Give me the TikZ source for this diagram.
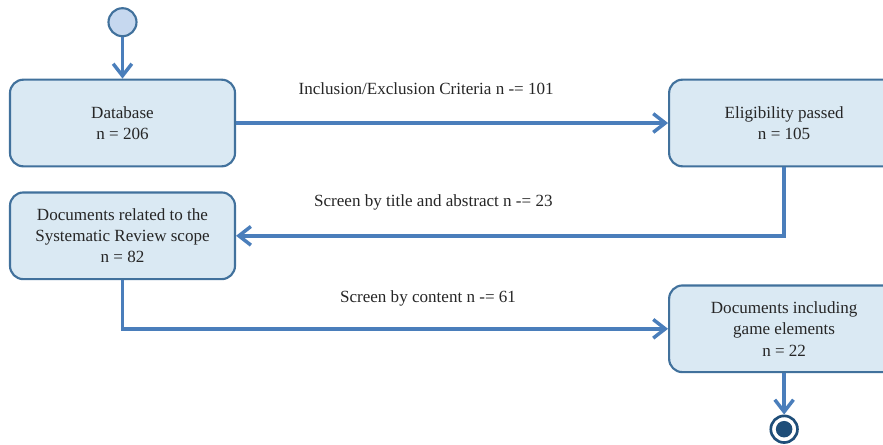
\documentclass[tikz,border=0pt]{standalone}
\usepackage{fontspec}
\setmainfont{Liberation Serif}
\usepackage{tikz}
\usetikzlibrary{positioning}
\usetikzlibrary{arrows.meta}
\definecolor{boxfill}{HTML}{DAE9F3}
\definecolor{boxline}{HTML}{41719C}
\definecolor{flowline}{HTML}{4A7EBB}
\definecolor{startfill}{HTML}{C6D8EF}
\definecolor{endfill}{HTML}{1F4E79}
\definecolor{txt}{HTML}{262626}
\tikzstyle{stage} = [rectangle,rounded corners=10pt,draw=boxline,line width=1.6pt,fill=boxfill,align=center,text=txt,minimum height=65pt]
\tikzstyle{initstate} = [circle,draw=boxline,line width=1.6pt,fill=startfill,minimum size=21pt,inner sep=0pt]
\tikzstyle{finalstate} = [circle,draw=endfill,line width=2pt,fill=white,minimum size=20pt,inner sep=0pt,path picture={\fill[endfill] (path picture bounding box.center) circle (6.2pt);}]

\begin{document}
\begin{tikzpicture}[font=\fontsize{12.8}{16}\selectfont,node distance=1cm]
	
	\tikzstyle{flow}=[-{Straight Barb[length=9pt,width=14pt]},draw=flowline,line width=2.6pt];
	\tikzstyle{flowlabel}=[text=txt];
	
	\useasboundingbox (-91.875pt,92.25pt) rectangle (570.375pt,-240.75pt);
	\clip (-91.875pt,92.25pt) rectangle (570.375pt,-240.75pt);
	
	\node (1) [stage,minimum width=168.75pt] {Database\\n = 206};
	\node (2) [stage,minimum width=172.5pt,right=324pt of 1] {Eligibility passed\\n = 105};
	\node (3) [stage,minimum width=168.75pt,below=18pt of 1] {Documents related to the\\Systematic Review scope\\n = 82};
	\node (4) [stage,minimum width=172.5pt,below=87.75pt of 2] {Documents including\\game elements\\n = 22};
	\node (0) [initstate,above=31pt of 1] {};
	\node (5) [finalstate,below=31pt of 4] {};
	
	\draw[flow] (0) -- (1);
	\draw[flow] (1) -- node[flowlabel,pos=0.44,yshift=25.5pt] {Inclusion/Exclusion Criteria n -= 101} (2);
	\draw[flow] (2) |- node[flowlabel,pos=0.82,yshift=24.75pt] {Screen by title and abstract n -= 23} (3);
	\draw[flow] (3) |- node[flowlabel,pos=0.78,yshift=22.5pt] {Screen by content n -= 61} (4);
	\draw[flow] (4) -- (5);
\end{tikzpicture}
\end{document}
